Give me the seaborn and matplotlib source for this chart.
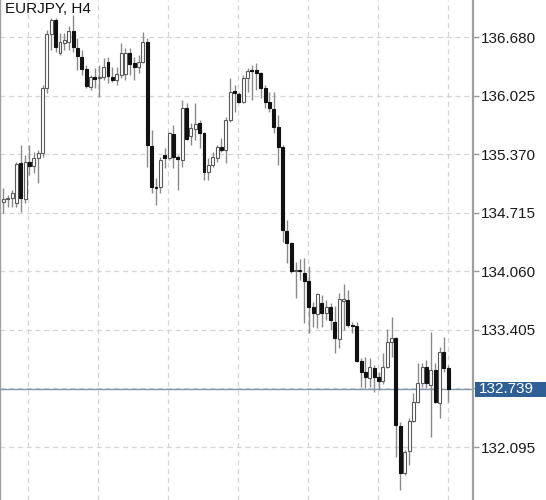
import matplotlib
matplotlib.use("Agg")
import matplotlib.pyplot as plt
from matplotlib.patches import Rectangle
from matplotlib.transforms import blended_transform_factory
import seaborn as sns
import numpy as np

title = "EURJPY, H4"
current_price = 132.739

opens = [134.836, 134.866, 134.881, 134.825, 135.273, 134.870, 135.284, 135.239, 135.329, 135.385,
         136.112, 136.717, 136.873, 136.504, 136.616, 136.627, 136.750, 136.560, 136.459, 136.325,
         136.123, 136.235, 136.224, 136.235, 136.403, 136.235, 136.202, 136.258, 136.269, 136.504,
         136.392, 136.347, 136.403, 136.627, 135.463, 135.004, 135.004, 135.362, 135.329, 135.597,
         135.340, 135.306, 135.888, 135.575, 135.653, 135.721, 135.609, 135.172, 135.250, 135.329,
         135.452, 135.418, 135.754, 136.079, 136.045, 135.956, 136.224, 136.314, 136.314, 136.280,
         136.112, 135.956, 135.877, 135.676, 135.452, 134.512, 134.378, 134.064, 134.070, 134.042,
         133.952, 133.661, 133.583, 133.706, 133.594, 133.661, 133.493, 133.303, 133.729, 133.740,
         133.460, 133.449, 133.057, 132.934, 132.867, 132.979, 132.878, 132.833, 132.990, 133.270,
         133.314, 132.330, 131.804, 132.050, 132.386, 132.598, 132.811, 132.990, 132.789, 132.956,
         132.587, 133.158, 132.979]
highs = [134.993, 134.915, 134.971, 135.284, 135.474, 135.362, 135.474, 135.396, 135.418, 136.146,
         136.761, 136.896, 136.896, 136.728, 136.728, 136.806, 136.929, 136.672, 136.537, 136.370,
         136.258, 136.336, 136.370, 136.448, 136.459, 136.347, 136.347, 136.616, 136.560, 136.560,
         136.459, 136.481, 136.739, 136.672, 135.642, 135.105, 135.340, 135.441, 135.620, 135.698,
         135.362, 135.978, 135.944, 135.721, 135.944, 135.754, 135.620, 135.329, 135.396, 135.474,
         135.553, 135.788, 136.224, 136.146, 136.067, 136.258, 136.336, 136.370, 136.392, 136.291,
         136.146, 136.067, 136.067, 135.810, 135.474, 134.635, 134.389, 134.165, 134.199, 134.210,
         134.120, 133.717, 133.818, 133.796, 133.740, 133.706, 133.673, 133.818, 133.919, 133.852,
         133.493, 133.493, 133.091, 133.102, 133.091, 133.012, 132.934, 133.147, 133.415, 133.549,
         133.330, 132.374, 132.061, 132.419, 132.699, 133.035, 133.035, 133.068, 133.382, 133.035,
         133.214, 133.326, 133.012]
lows = [134.713, 134.780, 134.780, 134.780, 134.724, 134.825, 135.139, 135.161, 135.049, 135.340,
        136.056, 136.537, 136.515, 136.481, 136.537, 136.537, 136.515, 136.314, 136.258, 136.112,
        136.090, 136.112, 136.011, 136.202, 136.168, 136.179, 136.146, 136.224, 136.202, 136.258,
        136.202, 136.280, 136.392, 135.228, 134.937, 134.803, 134.937, 135.217, 135.306, 135.217,
        134.971, 135.228, 135.530, 135.474, 135.530, 135.441, 135.083, 135.083, 135.228, 135.284,
        135.396, 135.273, 135.732, 135.844, 135.944, 135.944, 136.067, 135.978, 136.090, 136.000,
        135.888, 135.844, 135.609, 135.250, 134.389, 134.154, 134.042, 133.762, 133.963, 133.482,
        133.370, 133.438, 133.426, 133.438, 133.516, 133.404, 133.147, 133.203, 133.404, 133.438,
        133.370, 133.046, 132.766, 132.755, 132.766, 132.710, 132.732, 132.800, 132.979, 133.102,
        131.983, 131.613, 131.781, 131.893, 132.374, 132.587, 132.766, 132.755, 132.207, 132.587,
        132.419, 132.934, 132.598]
closes = [134.870, 134.873, 134.937, 135.262, 134.881, 135.284, 135.239, 135.329, 135.385, 136.112,
          136.717, 136.873, 136.571, 136.627, 136.650, 136.750, 136.571, 136.470, 136.325, 136.135,
          136.235, 136.213, 136.230, 136.347, 136.246, 136.202, 136.269, 136.504, 136.504, 136.381,
          136.347, 136.403, 136.627, 135.474, 135.004, 134.998, 135.306, 135.329, 135.609, 135.340,
          135.318, 135.888, 135.541, 135.665, 135.709, 135.609, 135.172, 135.250, 135.340, 135.452,
          135.418, 135.754, 136.067, 136.056, 135.956, 136.224, 136.302, 136.302, 136.280, 136.112,
          135.956, 135.888, 135.676, 135.452, 134.523, 134.378, 134.064, 134.070, 134.064, 133.952,
          133.661, 133.594, 133.807, 133.594, 133.661, 133.516, 133.314, 133.751, 133.751, 133.460,
          133.449, 133.057, 132.934, 132.878, 132.990, 132.878, 132.833, 132.990, 133.270, 133.314,
          132.341, 131.804, 132.039, 132.386, 132.598, 132.811, 132.990, 132.811, 132.956, 132.598,
          133.158, 132.979, 132.739]

price_ticks = [132.095, 132.750, 133.405, 134.060, 134.715, 135.370, 136.025, 136.680]
hidden_tick = 132.750  # label covered by the current-price box

sns.set_theme(style="white")
plt.rcParams['font.family'] = ['Liberation Sans', 'DejaVu Sans']

W, H = 546, 500
fig = plt.figure(figsize=(W / 100, H / 100), dpi=100)
fig.patch.set_facecolor("white")
ax = fig.add_axes([0, 0, 473 / W, 1])
ax.set_facecolor("white")

o = np.array(opens); h = np.array(highs); l = np.array(lows); c = np.array(closes)
idx = np.arange(len(o))
bull = c >= o
top = np.maximum(o, c)
bot = np.minimum(o, c)
height = np.maximum(top - bot, 0.012)

# wicks
ax.vlines(idx, top, h, color="#8a8a8a", lw=1.0, zorder=3)
ax.vlines(idx, l, bot, color="#8a8a8a", lw=1.0, zorder=3)
# bodies
ax.bar(idx[bull], height[bull], bottom=bot[bull], width=0.68, color="white",
       edgecolor="#5a5a5a", linewidth=0.8, zorder=4)
ax.bar(idx[~bull], height[~bull], bottom=bot[~bull], width=0.68, color="#111111",
       edgecolor="#111111", linewidth=0.8, zorder=4)

ax.set_xlim(-0.756, 107.66)
ax.set_ylim(131.502, 137.097)

# grid
vgrid = [5.7, 21.7, 37.8, 53.8, 69.8, 85.9, 101.9]
ax.set_xticks(vgrid)
ax.set_xticklabels([])
ax.tick_params(axis="x", length=0)
ax.set_yticks(price_ticks)
ax.set_yticklabels(["" if t == hidden_tick else f"{t:.3f}" for t in price_ticks])
ax.yaxis.tick_right()
ax.tick_params(axis="y", length=4, width=1, color="#9a9a9a", pad=2,
               labelsize=11, labelcolor="#1a1a1a")
ax.grid(True, linestyle=(0, (4, 3)), color="#d4d4d4", lw=0.9, zorder=0)
ax.set_axisbelow(True)

for s in ["top", "bottom"]:
    ax.spines[s].set_visible(False)
ax.spines["right"].set_color("#a0a0a0")
ax.spines["right"].set_linewidth(1.6)
ax.spines["left"].set_color("#a0a0a0")
ax.spines["left"].set_linewidth(1.0)

# current price line and label
ax.axhline(current_price, color="#7f98b0", lw=1.0, zorder=2)
bt = blended_transform_factory(ax.transAxes, ax.transData)
box_h = 15 / H * (137.097 - 131.502)
ax.add_patch(Rectangle((1.004, current_price - box_h / 2), 75 / 473, box_h,
                       transform=bt, facecolor="#2f5f95", edgecolor="none",
                       clip_on=False, zorder=10))
ax.text(1.0 + 6 / 473, current_price, f"{current_price:.3f}", transform=bt,
        va="center", ha="left", fontsize=11, color="white", zorder=11, clip_on=False)

ax.text(5 / 473, 1 - 2 / H, title, transform=ax.transAxes, va="top", ha="left",
        fontsize=11, color="#111111", zorder=12)

fig.savefig("out.png", dpi=100, facecolor="white")
